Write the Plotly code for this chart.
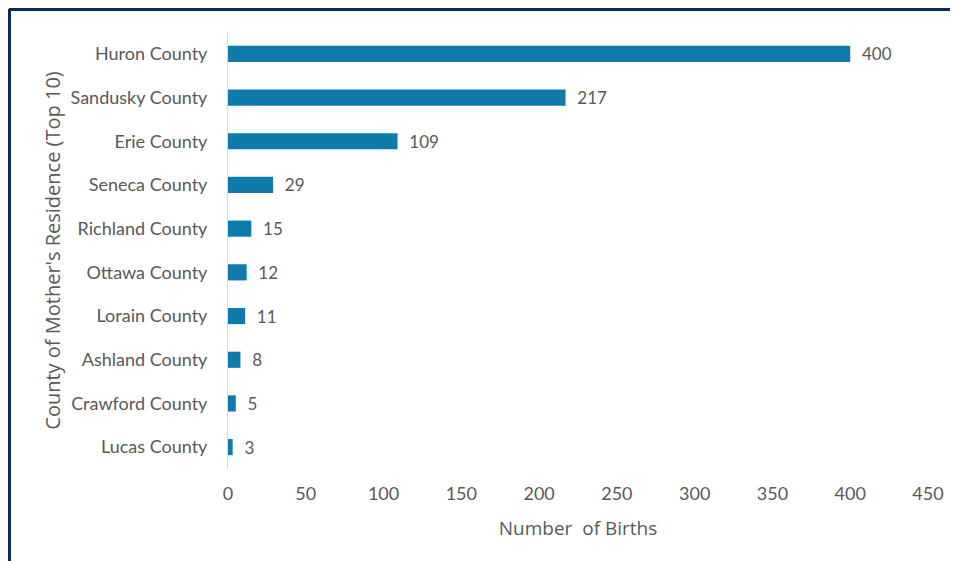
import plotly.graph_objects as go

counties = ["Huron County", "Sandusky County", "Erie County", "Seneca County",
            "Richland County", "Ottawa County", "Lorain County", "Ashland County",
            "Crawford County", "Lucas County"]
births = [400, 217, 109, 29, 15, 12, 11, 8, 5, 3]
x_ticks = [0, 50, 100, 150, 200, 250, 300, 350, 400, 450]

bar_color = "#0E7BAB"
text_color = "#595959"
navy = "#0B2A5B"

# page body has an 8px margin, so the figure is 8px smaller and shifted
fig = go.Figure(go.Bar(
    x=births, y=counties, orientation="h",
    marker=dict(color=bar_color, line=dict(width=0)),
    text=["  " + str(v) for v in births], textposition="outside",
    constraintext="none",
    textfont=dict(color=text_color, size=17, family="Lato"),
    cliponaxis=False,
))

fig.update_layout(
    width=950, height=553,
    margin=dict(l=220, r=30, t=24, b=92),
    paper_bgcolor="white", plot_bgcolor="white",
    font=dict(family="Lato", size=17, color=text_color),
    bargap=0.63,
    showlegend=False,
    xaxis=dict(range=[0, 450], tickvals=x_ticks, showgrid=False, zeroline=False,
               showline=False, ticks="", tickfont=dict(size=18),
               ticklabelstandoff=12,
               title=dict(text="Number  of Births", standoff=18,
                          font=dict(size=19, family="Open Sans"))),
    yaxis=dict(autorange="reversed", showgrid=False, zeroline=False, showline=True,
               linecolor="#D9D9D9", linewidth=1, ticks="", ticklabelstandoff=16,
               tickfont=dict(size=18),
               title=dict(text="County of Mother's Residence (Top 10)", standoff=4,
                          font=dict(size=20, family="Open Sans"))),
)

# dark frame along top and left edge of the screenshot
fig.add_shape(type="line", xref="paper", yref="paper", x0=-0.3129, x1=-0.3129,
              y0=-0.3, y1=1.0526, line=dict(color=navy, width=4))
fig.add_shape(type="line", xref="paper", yref="paper", x0=-0.3129, x1=1.1,
              y0=1.0526, y1=1.0526, line=dict(color=navy, width=4))

fig.write_html("out.html")
